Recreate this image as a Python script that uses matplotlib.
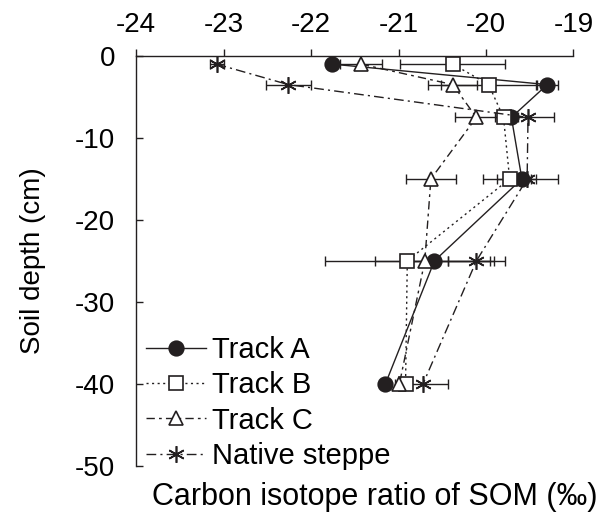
import numpy as np
import matplotlib
matplotlib.use("Agg")
import matplotlib.pyplot as plt

plt.rcParams['font.family'] = ['Liberation Sans', 'DejaVu Sans']
plt.rcParams['axes.unicode_minus'] = False

depth = [-1, -3.5, -7.5, -15, -25, -40]

trackA = [-21.76, -19.30, -19.71, -19.59, -20.59, -21.15]
trackA_err = [0.05, 0.12, 0.08, 0.10, 0.68, 0.05]
trackB = [-20.38, -19.97, -19.80, -19.73, -20.90, -20.92]
trackB_err = [0.60, 0.54, 0.10, 0.30, 0.94, 0.05]
trackC = [-21.43, -20.38, -20.11, -20.63, -20.70, -20.99]
trackC_err = [0.24, 0.28, 0.25, 0.29, 0.26, 0.05]
steppe = [-23.08, -22.26, -19.52, -19.53, -20.11, -20.72]
steppe_err = [0.08, 0.26, 0.30, 0.35, 0.33, 0.29]

labels = ['Track A', 'Track B', 'Track C', 'Native steppe']

fig = plt.figure(figsize=(6.16, 5.13), dpi=100)
ax = fig.add_axes([0.221, 0.092, 0.71, 0.799])

ink = '#231f20'
series = [
    (trackA, trackA_err, dict(marker='o', ls='-', mfc=ink, ms=10.5)),
    (trackB, trackB_err, dict(marker='s', ls=(0, (1.5, 2.5)), mfc='white', ms=9.5)),
    (trackC, trackC_err, dict(marker='^', ls=(0, (6, 3, 2, 3)), mfc='white', ms=10)),
    (steppe, steppe_err, dict(marker=(6, 2, 0), ls=(0, (7, 3, 1.5, 3)), mfc='none', ms=12)),
]

handles = []
for (vals, err, st), lab in zip(series, labels):
    ax.errorbar(vals, depth, xerr=err, fmt='none', ecolor=ink, elinewidth=1,
                capsize=3.5, capthick=1, zorder=2)
    h, = ax.plot(vals, depth, color=ink, lw=1, linestyle=st['ls'], marker=st['marker'],
                 markersize=st['ms'], markerfacecolor=st['mfc'], markeredgecolor=ink,
                 markeredgewidth=1.2, label=lab, zorder=3)
    handles.append(h)

ax.set_xlim(-24, -19)
ax.set_ylim(-50, 0)
ax.set_xticks(np.arange(-24, -18, 1))
ax.set_yticks(np.arange(-50, 1, 10))
ax.xaxis.tick_top()
ax.xaxis.set_label_position('bottom')
ax.tick_params(axis='x', direction='out', length=5, width=1, pad=8, labelsize=20, color=ink)
ax.tick_params(axis='y', direction='in', length=5, width=1, pad=15, labelsize=20, color=ink)
for s in ['right', 'bottom']:
    ax.spines[s].set_visible(False)
for s in ['top', 'left']:
    ax.spines[s].set_color(ink)
    ax.spines[s].set_linewidth(1)

ax.set_xlabel('Carbon isotope ratio of SOM (‰)', fontsize=22)
ax.xaxis.set_label_coords(0.546, -0.04, transform=ax.transAxes)
ax.xaxis.label.set_va('top')
ax.set_ylabel('Soil depth (cm)', fontsize=20)
ax.yaxis.set_label_coords(-0.205, 0.5)

ax.legend(handles=handles, loc='upper left', bbox_to_anchor=(0.237, 0.345),
          bbox_transform=fig.transFigure, frameon=False, fontsize=21,
          handlelength=2.05, handletextpad=0.2, labelspacing=0.25, borderpad=0,
          borderaxespad=0)

fig.savefig('out.png', dpi=100)
